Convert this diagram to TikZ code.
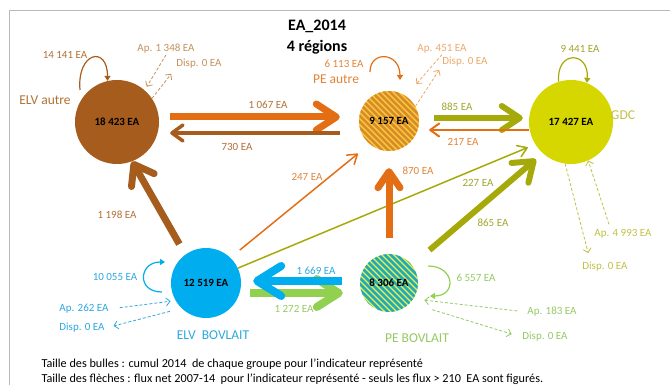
\documentclass[tikz,border=0pt]{standalone}
\usepackage{fontspec}
\setmainfont{Carlito}
\usetikzlibrary{positioning}
\usetikzlibrary{arrows.meta}
\definecolor{elvautrec}{RGB}{166,92,28}
\definecolor{orangec}{RGB}{228,110,20}
\definecolor{gdcc}{RGB}{214,214,0}
\definecolor{olivec}{RGB}{165,170,10}
\definecolor{bluec}{RGB}{0,174,239}
\definecolor{greenc}{RGB}{146,208,80}
\definecolor{peautrebg}{RGB}{255,205,60}
\definecolor{peautrest}{RGB}{214,140,40}
\definecolor{pebovbg}{RGB}{240,240,60}
\definecolor{pebovst}{RGB}{30,170,195}
\definecolor{elvautret}{RGB}{178,112,52}
\definecolor{elvautrel}{RGB}{195,145,90}
\definecolor{peautret}{RGB}{226,132,55}
\definecolor{peautrel}{RGB}{236,168,105}
\definecolor{olivet}{RGB}{160,165,45}
\definecolor{gdct}{RGB}{192,192,70}
\definecolor{bluet}{RGB}{45,168,222}
\definecolor{greent}{RGB}{150,200,100}

\begin{document}
\begin{tikzpicture}[x=1pt,y=1pt,
  bubble/.style={circle, minimum size=#1, inner sep=0pt, font=\bfseries\fontsize{11}{12}\selectfont},
  hatch/.style 2 args={fill=#1, path picture={
      \foreach \d in {-96,-90,...,96}
        \draw[#2, line width=2.5pt] ([xshift=\d pt]path picture bounding box.center) ++(-45pt,45pt) -- ++(90pt,-90pt);}},
  lbl/.style={inner sep=1pt, font=\fontsize{11}{12}\selectfont},
  grp/.style={inner sep=1pt, font=\fontsize{13.5}{15}\selectfont},
  flux/.style n args={3}{line width=#1, -{Straight Barb[length=#2, width=#3, round]}},
  boucle/.style={line width=1.2pt, -{Triangle[length=5pt, width=6pt]}},
  echange/.style={line width=0.8pt, dash pattern=on 3pt off 2pt, -{Straight Barb[length=4pt, width=8pt]}}]
\useasboundingbox (0,0) rectangle (670,385);
\draw[gray!55, line width=0.8pt] (9,0) -- (9,375) -- (670,375);

% bulles
\node[bubble=84pt, fill=elvautrec] (elvautre) at (117,263) {18 423 EA};
\node[bubble=60pt, hatch={peautrebg}{peautrest}] (peautre) at (389,264) {9 157 EA};
\node[bubble=84pt, fill=gdcc] (gdc) at (571,263) {17 427 EA};
\node[bubble=70pt, fill=bluec] (elvbov) at (206,102) {12 519 EA};
\node[bubble=58pt, hatch={pebovbg}{pebovst}] (pebov) at (389,102) {8 306 EA};

% titre
\node[font=\bfseries\fontsize{16}{18}\selectfont] (titre) at (317,359) {EA\_2014};
\node[font=\bfseries\fontsize{16}{18}\selectfont] (soustitre) at (317,338) {4 régions};

% ELV autre
\node[grp, text=elvautret] (nomelva) at (45,285) {ELV autre};
\node[lbl, text=elvautret] (boucleelva) at (65,330) {14 141 EA};
\node[lbl, text=elvautrel] (apelva) at (166,336) {Ap. 1 348 EA};
\node[lbl, text=elvautrel] (dispelva) at (199,321) {Disp. 0 EA};
\draw[boucle, elvautrec] ([shift={(-37pt,32pt)}]elvautre.center) .. controls +(95:38) and +(90:36) .. (elvautre.103);
\draw[echange, elvautrel] (apelva.south) -- (elvautre.49) [shorten >=4pt];
\draw[echange, elvautrel] (elvautre.34) -- ([shift={(-4pt,-4pt)}]dispelva.south west);

% PE autre
\node[grp, text=peautret] (nompea) at (336,306) {PE autre};
\node[lbl, text=peautret] (bouclepea) at (344,321) {6 113 EA};
\node[lbl, text=peautrel] (appea) at (442,336) {Ap. 451 EA};
\node[lbl, text=peautrel] (disppea) at (465,323) {Disp. 0 EA};
\draw[boucle, orangec] ([shift={(-19pt,49pt)}]peautre.center) .. controls +(90:22) and +(90:28) .. ([shift={(11pt,41pt)}]peautre.center);
\draw[echange, peautrel, shorten >=16pt] (appea.south) -- (peautre.56);
\draw[echange, peautrel] (peautre.29) -- ([shift={(-2pt,-2pt)}]disppea.south west);

% GDC
\node[grp, text=gdct] (nomgdc) at (623,270) {GDC};
\node[lbl, text=olivet] (bouclegdc) at (580,336) {9 441 EA};
\node[lbl, text=gdct] (apgdc) at (623,151) {Ap. 4 993 EA};
\node[lbl, text=gdct] (dispgdc) at (605,118) {Disp. 0 EA};
\draw[boucle, olivec] (gdc.107) .. controls +(95:32) and +(85:32) .. (gdc.68);
\draw[echange, gdct] (gdc.262) -- ([shift={(7pt,8pt)}]dispgdc.north west);
\draw[echange, gdct] ([shift={(-14pt,4pt)}]apgdc.north) -- (gdc.294);

% ELV BOVLAIT
\node[grp, text=bluet] (nomelvb) at (213,50) {ELV\ \ BOVLAIT};
\node[lbl, text=bluet] (boucleelvb) at (115,108) {10 055 EA};
\node[lbl, text=bluet] (apelvb) at (84,76) {Ap. 262 EA};
\node[lbl, text=bluet] (dispelvb) at (82,57) {Disp. 0 EA};
\draw[boucle, bluec] ([shift={(-44pt,-9pt)}]elvbov.center) .. controls +(180:26) and +(180:26) .. ([shift={(-41pt,21pt)}]elvbov.center);
\draw[echange, bluet, shorten <=10pt, shorten >=5pt] (apelvb.east) -- (elvbov.210);
\draw[echange, bluet, shorten <=12pt, shorten >=8pt] (elvbov.226) -- (dispelvb.east);

% PE BOVLAIT
\node[grp, text=greent] (nompeb) at (417,47) {PE BOVLAIT};
\node[lbl, text=greent] (bouclepeb) at (476,107) {6 557 EA};
\node[lbl, text=greent] (appeb) at (552,73) {Ap. 183 EA};
\node[lbl, text=greent] (dispeb) at (545,48) {Disp. 0 EA};
\draw[boucle, greenc] ([shift={(39pt,17pt)}]pebov.center) .. controls +(0:27) and +(0:27) .. ([shift={(41pt,-13pt)}]pebov.center);
\draw[echange, greent, shorten <=9pt, shorten >=11pt] (appeb.west) -- (pebov.327);
\draw[echange, greent, shorten <=23pt, shorten >=10pt] (pebov.317) -- (dispeb.west);

% flux
\node[lbl, text=elvautret] (f1067) at (268,280) {1 067 EA};
\draw[flux={7pt}{20pt}{26pt}, orangec] ([xshift=11pt,yshift=5pt]elvautre.east) -- ([xshift=-19pt,yshift=4pt]peautre.west);
\node[lbl, text=elvautret] (f730) at (237,238) {730 EA};
\draw[flux={3.5pt}{11pt}{16pt}, elvautrec] ([xshift=-19pt,yshift=-12pt]peautre.west) -- ([xshift=11pt,yshift=-11pt]elvautre.east);
\node[lbl, text=olivet] (f885) at (457,278) {885 EA};
\draw[flux={6pt}{18pt}{24pt}, olivec] ([xshift=15pt,yshift=3pt]peautre.east) -- ([xshift=-6pt,yshift=4pt]gdc.west);
\node[lbl, text=peautret] (f217) at (463,243) {217 EA};
\draw[flux={2pt}{9pt}{13pt}, orangec] ([yshift=-8pt]gdc.west) -- ([xshift=10pt,yshift=-9pt]peautre.east);
\node[lbl, text=elvautret] (f1198) at (117,170) {1 198 EA};
\draw[flux={7pt}{18pt}{26pt}, elvautrec, shorten <=12pt] (elvbov.126) -- (elvautre.291);
\node[lbl, text=peautret] (f247) at (307,208) {247 EA};
\draw[flux={1.5pt}{9pt}{12pt}, orangec, shorten <=12pt, shorten >=15pt] (elvbov.46) -- (peautre.230);
\node[lbl, text=olivet] (f227) at (478,202) {227 EA};
\draw[flux={1.5pt}{9pt}{12pt}, olivec, shorten >=8pt] (elvbov.25) -- (gdc.212);
\node[lbl, text=peautret] (f870) at (418,214) {870 EA};
\draw[flux={7pt}{16pt}{22pt}, orangec, shorten <=16pt, shorten >=17pt] (pebov.north) -- (peautre.south);
\node[lbl, text=olivet] (f865) at (493,162) {865 EA};
\draw[flux={6pt}{18pt}{26pt}, olivec, shorten <=23pt, shorten >=9pt] (pebov.38) -- (gdc.228);
\node[lbl, text=greent] (f1272) at (294,76) {1 272 EA};
\draw[flux={8pt}{22pt}{28pt}, greenc] ([xshift=9pt,yshift=-10pt]elvbov.east) -- ([xshift=-17pt,yshift=-10pt]pebov.west);
\node[lbl, text=bluet] (f1669) at (316,114) {1 669 EA};
\draw[flux={8pt}{24pt}{30pt}, bluec] ([xshift=-18pt,yshift=2pt]pebov.west) -- ([xshift=12pt,yshift=2pt]elvbov.east);

% legende
\node[anchor=west, font=\fontsize{12.2}{14}\selectfont] (legende1) at (38,21) {Taille des bulles : cumul 2014\ \ de chaque groupe pour l'indicateur représenté};
\node[anchor=west, font=\fontsize{12.2}{14}\selectfont] (legende2) at (38,6) {Taille des flèches : flux net 2007-14\ \ pour l'indicateur représenté - seuls les flux > 210\ \ EA sont figurés.};
\end{tikzpicture}
\end{document}
